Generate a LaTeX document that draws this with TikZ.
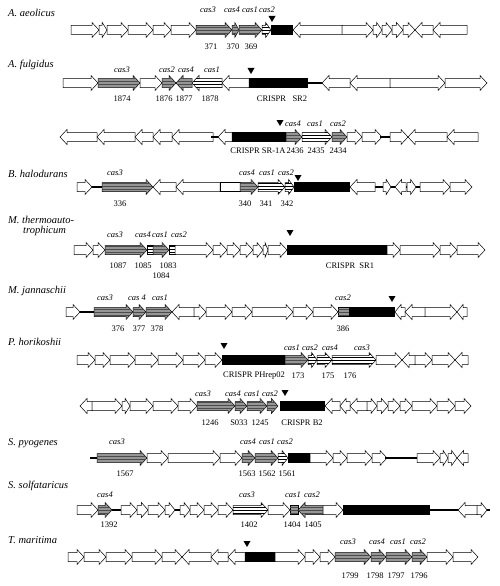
\documentclass[tikz,border=0pt]{standalone}
\usepackage{fontspec}
\setmainfont{Liberation Serif}
\usetikzlibrary{patterns}
\definecolor{casgray}{RGB}{150,150,150}

% gene arrows on the current row \yr
\newcommand{\gR}[3][gene]{%
  \pgfmathsetmacro{\hlen}{min(7,0.6*(#3-#2))}%
  \draw[#1] (#2,\yr-4.5) -- (#3-\hlen,\yr-4.5) -- (#3-\hlen,\yr-7.5) -- (#3,\yr)
    -- (#3-\hlen,\yr+7.5) -- (#3-\hlen,\yr+4.5) -- (#2,\yr+4.5) -- cycle;}
\newcommand{\gL}[3][gene]{%
  \pgfmathsetmacro{\hlen}{min(7,0.6*(#3-#2))}%
  \draw[#1] (#3,\yr-4.5) -- (#2+\hlen,\yr-4.5) -- (#2+\hlen,\yr-7.5) -- (#2,\yr)
    -- (#2+\hlen,\yr+7.5) -- (#2+\hlen,\yr+4.5) -- (#3,\yr+4.5) -- cycle;}
\newcommand{\gB}[3][gene]{\draw[#1] (#2,\yr-4.5) rectangle (#3,\yr+4.5);}
\newcommand{\crispr}[2]{\fill (#1,\yr-5) rectangle (#2,\yr+5);}
\newcommand{\spc}[2]{\draw[line width=1.8pt] (#1,\yr) -- (#2,\yr);}
\newcommand{\ctri}[2]{\fill (#1-3.5,#2-3) -- (#1+3.5,#2-3) -- (#1,#2+3) -- cycle;}

\begin{document}
\begin{tikzpicture}[x=1pt,y=-1pt,
    gene/.style={draw=black,fill=white,line width=0.5pt},
    casg/.style={gene,fill=casgray,
                 postaction={pattern=horizontal lines,pattern color=black!70}},
    casw/.style={gene,postaction={pattern=horizontal lines,pattern color=black}},
    org/.style={anchor=west,inner sep=0pt,font=\fontsize{10.5}{12}\selectfont\itshape},
    cas/.style={inner sep=0pt,font=\fontsize{8.5}{10}\selectfont\itshape},
    num/.style={inner sep=0pt,font=\fontsize{8.5}{10}\selectfont}]
\useasboundingbox (0,0) rectangle (500,586);

% A. aeolicus
\def\yr{30}
\node[org] (aeo) at (8,13) {A. aeolicus};
\foreach \a/\b in {71/99,99/107,107/128,128/153,153/171,171/196}{\gR{\a}{\b}}
\gR[casg]{196}{232} \gR[casg]{232}{239} \gR[casg]{239}{262} \gR[casw]{262}{271}
\crispr{271}{293}
\gL{293}{342}
\foreach \a/\b in {342/373,373/382,382/392,392/403,403/415}{\gR{\a}{\b}}
\gL{415}{433} \gL{433}{467}
\ctri{272}{19}
\foreach \x/\t [count=\i] in {208/3,232/4,250/1,267/2}
  \node[cas] (aeoc\i) at (\x,10) {cas\t};
\foreach \x/\t [count=\i] in {211/371,233/370,251/369}
  \node[num] (aeon\i) at (\x,47) {\t};

% A. fulgidus
\def\yr{83}
\node[org] (ful) at (8,65) {A. fulgidus};
\gR{63}{98} \gR[casg]{98}{140} \gR{140}{162} \gR[casg]{162}{176}
\gL[casg]{176}{192} \gL[casw]{192}{222} \gL{222}{249}
\spc{305}{324} \crispr{249}{308}
\gL{322}{350} \gL{350}{390} \gR{390}{445} \gR{445}{487}
\ctri{251}{71}
\foreach \x/\t [count=\i] in {122/3,167/2,186/4,212/1}
  \node[cas] (fulc\i) at (\x,70) {cas\t};
\foreach \x/\t [count=\i] in {122/1874,164/1876,184/1877,210/1878}
  \node[num] (fuln\i) at (\x,99) {\t};
\node[num] (fulsr) at (282,99) {CRISPR\ \ \ SR2};

\def\yr{137}
\foreach \a/\b in {60/97,97/135,135/153,153/172,172/213}{\gL{\a}{\b}}
\spc{211}{220} \gL{218}{232}
\crispr{232}{286}
\gR[casg]{286}{302} \gR[casw]{302}{332} \gR[casg]{332}{347}
\gR{347}{362} \gR{362}{382} \spc{380}{392} \gR{390}{408}
\gL{408}{447} \gL{447}{478}
\ctri{280}{123}
\foreach \x/\t [count=\i] in {293/4,315/1,338/2}
  \node[cas] (fulc\i b) at (\x,124) {cas\t};
\foreach \x/\t [count=\i] in {295/2436,316/2435,338/2434}
  \node[num] (fuln\i b) at (\x,151) {\t};
\node[num] (fulsrb) at (258,151) {CRISPR SR-1A};

% B. halodurans
\def\yr{187}
\node[org] (hal) at (8,174) {B. halodurans};
\spc{90}{104} \gR{77}{92} \gR[casg]{102}{153}
\gL{153}{176} \gL{176}{220} \gB{220}{240}
\gR[casg]{240}{258} \gR[casw]{258}{285} \gR[casw]{285}{294}
\crispr{294}{350}
\spc{373}{422} \gL{350}{375} \gR{383}{391} \gL{395}{406} \gR{407}{416}
\gR{420}{450} \gR{450}{472}
\ctri{298}{178}
\foreach \x/\t [count=\i] in {115/3,247/4,267/1,286/2}
  \node[cas] (halc\i) at (\x,173) {cas\t};
\foreach \x/\t [count=\i] in {120/336,245/340,266/341,287/342}
  \node[num] (haln\i) at (\x,204) {\t};

% M. thermoautotrophicum
\def\yr{250}
\node[org] (the) at (8,220) {M. thermoauto-};
\node[org] (thb) at (23,231) {trophicum};
\gR{74}{93} \gR{93}{105} \gR[casg]{105}{147} \gB[casw]{147}{153}
\gR[casg]{153}{169} \gB[casw]{169}{175}
\foreach \a/\b in {175/213,213/227,227/240,240/253,253/263,263/268,268/287}{\gR{\a}{\b}}
\crispr{287}{387}
\foreach \a/\b in {387/400,400/440,440/457,457/485}{\gR{\a}{\b}}
\ctri{290}{233}
\foreach \x/\t [count=\i] in {115/3,143/4,160/1,179/2}
  \node[cas] (thec\i) at (\x,235) {cas\t};
\foreach \x/\t [count=\i] in {118/1087,143/1085,168/1083}
  \node[num] (then\i) at (\x,266) {\t};
\node[num] (then4) at (161,276) {1084};
\node[num] (thesr) at (350,266) {CRISPR\ \ SR1};

% M. jannaschii
\def\yr{312}
\node[org] (jan) at (8,291) {M. jannaschii};
\spc{78}{95} \gR{66}{80}
\gR[casg]{94}{133} \gR[casg]{133}{146} \gR[casg]{146}{172}
\gL{172}{194}
\foreach \a/\b in {194/206,206/232,232/252,252/293,293/313,313/338}{\gR{\a}{\b}}
\gB[casg]{338}{349} \crispr{349}{395}
\gL{395}{405} \gL{405}{425} \gR{425}{457} \gL{457}{467}
\ctri{392}{299}
\foreach \x/\t [count=\i] in {105/3,160/1,343/2}
  \node[cas] (janc\i) at (\x,298) {cas\t};
\node[cas] (janc4) at (137,298) {cas 4};
\foreach \x/\t [count=\i] in {118/376,139/377,157/378,343/386}
  \node[num] (jann\i) at (\x,329) {\t};

% P. horikoshii
\def\yr{360}
\node[org] (hor) at (8,342) {P. horikoshii};
\foreach \a/\b in {77/95,95/110,110/135,135/158,158/183,183/205,205/222}{\gR{\a}{\b}}
\crispr{222}{285}
\gR[casg]{285}{308} \gR[casw]{308}{317} \gR[casw]{317}{332} \gR[casw]{332}{376}
\gR{376}{402} \gL{402}{415} \gR{415}{432} \gR{432}{455} \gL{455}{468}
\ctri{224}{346}
\foreach \x/\t [count=\i] in {292/1,310/2,330/4,362/3}
  \node[cas] (horc\i) at (\x,348) {cas\t};
\node[num] (horsr) at (254,376) {CRISPR PHrep02};
\foreach \x/\t [count=\i] in {298/173,328/175,350/176}
  \node[num] (horn\i) at (\x,376) {\t};

\def\yr{406}
\gL{80}{92}
\foreach \a/\b in {92/122,122/130,130/153,153/178,178/197}{\gR{\a}{\b}}
\gR[casg]{197}{235} \gR[casg]{235}{247} \gR[casg]{247}{267} \gR[casg]{267}{278}
\crispr{280}{325}
\gL{325}{340} \gL{340}{350} \gL{350}{367}
\foreach \a/\b in {367/377,377/388,388/400,400/412,412/437,437/455,455/471}{\gR{\a}{\b}}
\ctri{285}{393}
\foreach \x/\t [count=\i] in {203/3,233/4,252/1,270/2}
  \node[cas] (horc\i b) at (\x,394) {cas\t};
\foreach \x/\t [count=\i] in {210/1246,239/S033,260/1245}
  \node[num] (horn\i b) at (\x,423) {\t};
\node[num] (horsrb) at (302,423) {CRISPR B2};

% S. pyogenes
\def\yr{458}
\node[org] (pyo) at (8,443) {S. pyogenes};
\spc{90}{99} \gR[casg]{97}{147}
\foreach \a/\b in {147/168,168/220,220/242}{\gR{\a}{\b}}
\gR[casg]{242}{255} \gR[casg]{255}{278} \gR[casw]{278}{288}
\crispr{288}{310}
\foreach \a/\b in {310/333,333/347,347/372,372/387}{\gR{\a}{\b}}
\spc{385}{419}
\foreach \a/\b in {417/440,440/448,448/457}{\gR{\a}{\b}}
\gL{457}{468}
\node[cas] (pyoc1) at (117,442) {cas3};
\foreach \x/\t [count=\i] in {248/4,267/1,285/2}
  \node[cas] (pyoc\i b) at (\x,442) {cas\t};
\foreach \x/\t [count=\i] in {125/1567,247/1563,267/1562,287/1561}
  \node[num] (pyon\i) at (\x,474) {\t};

% S. solfataricus
\def\yr{510}
\node[org] (sol) at (8,486) {S. solfataricus};
\spc{110}{123} \spc{173}{182}
\gR{77}{98} \gR[casg]{98}{112}
\foreach \a/\b in {121/137,137/148,148/165,165/175,180/190,190/204,204/218,218/233}{\gR{\a}{\b}}
\gR[casw]{233}{268} \gR{268}{290} \gB[casg]{290}{298} \gL[casg]{298}{323}
\gR{323}{343}
\spc{428}{460} \spc{485}{490}
\crispr{343}{430}
\gL{458}{477} \gR{477}{487}
\foreach \x/\t [count=\i] in {105/4,247/3,293/1,312/2}
  \node[cas] (solc\i) at (\x,495) {cas\t};
\foreach \x/\t [count=\i] in {109/1392,249/1402,292/1404,313/1405}
  \node[num] (soln\i) at (\x,525) {\t};

% T. maritima
\def\yr{557}
\node[org] (mar) at (8,540) {T. maritima};
\foreach \a/\b in {68/84,84/106,106/132,132/162,162/182}{\gR{\a}{\b}}
\foreach \a/\b in {182/211,211/228,228/245}{\gL{\a}{\b}}
\crispr{245}{275}
\foreach \a/\b in {275/305,305/320,320/335}{\gR{\a}{\b}}
\gR[casg]{335}{371} \gR[casg]{371}{386} \gR[casg]{386}{412} \gR[casg]{412}{427}
\gR{427}{453} \gR{453}{478}
\ctri{247}{544}
\foreach \x/\t [count=\i] in {348/3,377/4,398/1,418/2}
  \node[cas] (marc\i) at (\x,542) {cas\t};
\foreach \x/\t [count=\i] in {350/1799,375/1798,396/1797,419/1796}
  \node[num] (marn\i) at (\x,576) {\t};
\end{tikzpicture}
\end{document}
